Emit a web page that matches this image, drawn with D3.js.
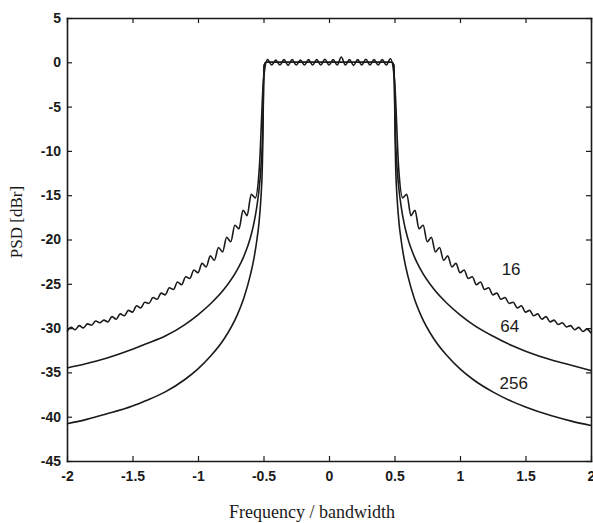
<!DOCTYPE html>
<html>
<head>
<meta charset="utf-8">
<script src="https://cdn.jsdelivr.net/npm/d3@7"></script>
<style>
  body { margin: 0; background: #fff; }
  svg { display: block; }
</style>
</head>
<body>
<svg width="593" height="523"></svg>
<script>
const svg = d3.select('svg');

// x grid for the 16-carrier curve (peaks/troughs every 1/32 of the bandwidth)
const freq16 = d3.range(-64, 65).map(k => k / 32);

// PSD of 16 subcarriers, f = -2 ... 2
const psd16 = [
  // left sidelobes, f = -2 ... -0.53125
  -30.38, -29.92, -30.18, -29.72, -29.98, -29.52, -29.68, -29.2, -29.4, -29.1, -29.3, -28.7,
  -29.0, -28.4, -28.6, -28.0, -28.2, -27.48, -27.72, -27.08, -27.22, -26.55, -26.75, -26.05,
  -26.25, -25.45, -25.65, -24.8, -25.1, -24.2, -24.4, -23.45, -23.75, -22.7, -23.1, -21.85,
  -22.35, -20.9, -21.4, -19.75, -20.25, -18.4, -18.8, -16.7, -17.3, -14.9, -15.3, -11.8,
  // passband, f = -0.5 ... 0.5
  -2, 0.3, -0.3, 0.25, -0.3, 0.3, -0.35, 0.3, -0.3, 0.25, -0.3, 0.3, -0.3, 0.3, -0.3, 0.35,
  -0.3, 0.3, -0.3, 0.6, -0.3, 0.3, -0.35, 0.3, -0.3, 0.35, -0.3, 0.3, -0.3, 0.3, -0.3, 0.4, -2,
  // right sidelobes, f = 0.53125 ... 2
  -11.8, -15.3, -14.9, -17.3, -16.7, -18.8, -18.4, -20.25, -19.75, -21.4, -20.9, -22.35,
  -21.85, -23.1, -22.7, -23.75, -23.45, -24.4, -24.2, -25.1, -24.8, -25.65, -25.45, -26.25,
  -26.05, -26.75, -26.55, -27.22, -27.08, -27.72, -27.48, -28.2, -28.0, -28.6, -28.4, -29.0,
  -28.7, -29.3, -29.1, -29.6, -29.4, -29.88, -29.72, -30.18, -29.92, -30.38, -30.12, -30.58
];

// x points for the smooth curves (64 and 256 subcarriers)
const freqSmooth = [
  -2, -1.85, -1.7, -1.5, -1.4, -1.25, -1.1, -1.0, -0.9, -0.8, -0.7, -0.65, -0.6, -0.575,
  -0.55, -0.535, -0.52, -0.51, -0.505, -0.5,
  -0.495, -0.48, -0.25, 0, 0.25, 0.48, 0.495,
  0.5, 0.505, 0.51, 0.52, 0.535, 0.55, 0.575, 0.6, 0.65, 0.7, 0.8, 0.9, 1.0, 1.1, 1.25,
  1.4, 1.5, 1.7, 1.85, 2
];

const psd64 = [
  -34.5, -34.0, -33.4, -32.4, -31.8, -30.9, -29.6, -28.5, -27.2, -25.6, -23.4, -21.9, -19.8, -18.3,
  -16.2, -14.5, -12.0, -9.4, -7.0, -3,
  -0.4, 0, 0, 0, 0, 0, -0.4,
  -3, -7.0, -9.4, -12.0, -14.5, -16.2, -18.3, -19.8, -21.9, -23.4, -25.6, -27.2, -28.5, -29.6, -30.9,
  -32.0, -32.6, -33.6, -34.2, -34.8
];

const psd256 = [
  -40.8, -40.3, -39.7, -38.8, -38.2, -37.2, -35.8, -34.6, -33.1, -31.2, -28.5, -26.6, -24.0, -22.3,
  -20.0, -18.2, -15.4, -12.3, -9.0, -3,
  -0.3, 0, 0, 0, 0, 0, -0.3,
  -3, -9.0, -12.3, -15.4, -18.2, -20.0, -22.3, -24.0, -26.6, -28.5, -31.2, -33.1, -34.6, -35.8, -37.2,
  -38.3, -38.9, -39.9, -40.5, -41.0
];

// curve labels: [text, f, dB]
const curveLabels = [
  ['16', 1.39, -23.4],
  ['64', 1.38, -29.8],
  ['256', 1.41, -36.2]
];

const xTicks = [-2, -1.5, -1, -0.5, 0, 0.5, 1, 1.5, 2];
const yTicks = [-45, -40, -35, -30, -25, -20, -15, -10, -5, 0, 5];

const x = d3.scaleLinear().domain([-2, 2]).range([67, 591]);
const y = d3.scaleLinear().domain([-45, 5]).range([461, 18]);

const fmt = d => String(d);
const ink = '#1a1a1a';

const styleAxis = g => {
  g.select('.domain').attr('stroke', ink).attr('stroke-width', 1.6);
  g.selectAll('.tick line').attr('stroke', ink).attr('stroke-width', 1.2);
  g.selectAll('.tick text')
    .attr('fill', ink)
    .style('font-family', '"Liberation Sans", Arial, sans-serif')
    .style('font-size', '14px')
    .style('font-weight', 'bold');
};

// bottom / left with labels, top / right only ticks (box style)
svg.append('g')
  .attr('transform', `translate(0,${y(-45)})`)
  .call(d3.axisBottom(x).tickValues(xTicks).tickFormat(fmt).tickSizeInner(-5).tickSizeOuter(0).tickPadding(10))
  .call(styleAxis);

svg.append('g')
  .attr('transform', `translate(0,${y(5)})`)
  .call(d3.axisTop(x).tickValues(xTicks).tickFormat('').tickSizeInner(-5).tickSizeOuter(0))
  .call(styleAxis);

svg.append('g')
  .attr('transform', `translate(${x(-2)},0)`)
  .call(d3.axisLeft(y).tickValues(yTicks).tickFormat(fmt).tickSizeInner(-5).tickSizeOuter(0).tickPadding(6))
  .call(styleAxis);

svg.append('g')
  .attr('transform', `translate(${x(2)},0)`)
  .call(d3.axisRight(y).tickValues(yTicks).tickFormat('').tickSizeInner(-5).tickSizeOuter(0))
  .call(styleAxis);

svg.selectAll('.domain').attr('stroke-linecap', 'square');

// curves
const line = d3.line()
  .x(d => x(d[0]))
  .y(d => y(d[1]))
  .curve(d3.curveMonotoneX);

const series = [
  d3.zip(freqSmooth, psd256),
  d3.zip(freqSmooth, psd64),
  d3.zip(freq16, psd16)
];

svg.append('g')
  .selectAll('path')
  .data(series)
  .join('path')
    .attr('d', line)
    .attr('fill', 'none')
    .attr('stroke', ink)
    .attr('stroke-width', 1.6)
    .attr('stroke-linejoin', 'round');

svg.append('g')
  .selectAll('text')
  .data(curveLabels)
  .join('text')
    .attr('x', d => x(d[1]))
    .attr('y', d => y(d[2]))
    .attr('text-anchor', 'middle')
    .attr('dominant-baseline', 'central')
    .attr('fill', ink)
    .style('font-family', '"Liberation Sans", Arial, sans-serif')
    .style('font-size', '17px')
    .text(d => d[0]);

// axis titles
svg.append('text')
  .attr('transform', 'translate(16,222) rotate(-90)')
  .attr('text-anchor', 'middle')
  .attr('dominant-baseline', 'central')
  .attr('fill', ink)
  .style('font-family', '"Liberation Serif", "Times New Roman", serif')
  .style('font-size', '17px')
  .text('PSD [dBr]');

svg.append('text')
  .attr('x', 312)
  .attr('y', 518)
  .attr('text-anchor', 'middle')
  .attr('fill', ink)
  .style('font-family', '"Liberation Serif", "Times New Roman", serif')
  .style('font-size', '18px')
  .text('Frequency / bandwidth');
</script>
</body>
</html>
